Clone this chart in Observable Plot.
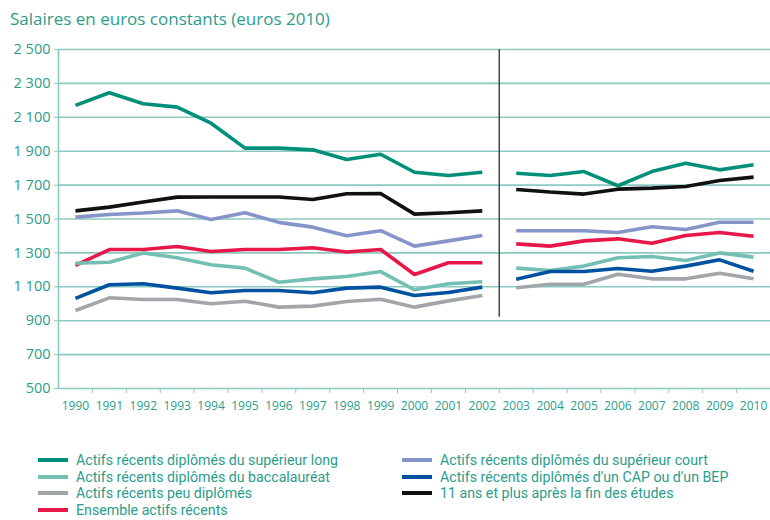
<!DOCTYPE html>
<html>
<head>
<meta charset="utf-8">
<script src="https://cdn.jsdelivr.net/npm/d3@7"></script>
<script src="https://cdn.jsdelivr.net/npm/@observablehq/plot@0.6"></script>
<style>
  html, body { margin: 0; padding: 0; background: #fff; }
  body { width: 770px; height: 520px; position: relative; overflow: hidden; font-family: "Open Sans", sans-serif; }
  #subtitle { position: absolute; left: 10px; top: 7px; font-size: 17px; line-height: 24px; color: #2a9d8c; white-space: nowrap; }
  #chart { position: absolute; left: 0; top: 40px; }
  #legend { position: absolute; left: 38px; top: 451.5px; display: grid; grid-template-columns: 364px 360px; grid-auto-flow: column; grid-template-rows: repeat(4, 16.8px); }
  .item { display: flex; align-items: center; height: 16.8px; overflow: visible; }
  .sw { width: 30px; height: 4px; margin-right: 8px; flex: none; }
  .lt { display: block; font-family: Roboto, sans-serif; font-size: 14.2px; line-height: 16px; height: 16px; color: #2a9d8c; white-space: nowrap; }
</style>
</head>
<body>
<div id="subtitle">Salaires en euros constants (euros 2010)</div>
<div id="chart"></div>
<div id="legend"></div>
<script>
const years = [1990,1991,1992,1993,1994,1995,1996,1997,1998,1999,2000,2001,2002,2003,2004,2005,2006,2007,2008,2009,2010];
const rupture = [2002, 2003]; // série interrompue entre ces deux années

const seriesNames = [
  "Actifs récents diplômés du supérieur long",
  "Actifs récents diplômés du baccalauréat",
  "Actifs récents peu diplômés",
  "Ensemble actifs récents",
  "Actifs récents diplômés du supérieur court",
  "Actifs récents diplômés d'un CAP ou d'un BEP",
  "11 ans et plus après la fin des études"
];
const seriesColors = ["#00907a", "#74bfb3", "#a2a5aa", "#e8174a", "#8594c9", "#0052a0", "#111111"];

const superieurLong = [2170,2245,2180,2160,2065,1918,1918,1908,1851,1882,1776,1757,1776, 1770,1757,1780,1696,1780,1829,1790,1820];
const baccalaureat  = [1239,1245,1300,1271,1230,1210,1127,1147,1161,1190,1082,1118,1130, 1210,1196,1222,1271,1279,1255,1300,1275];
const peuDiplomes   = [960,1035,1025,1025,1000,1015,980,986,1013,1027,980,1017,1049, 1094,1115,1115,1174,1147,1147,1180,1147];
const ensemble      = [1226,1320,1320,1338,1308,1320,1320,1330,1305,1320,1173,1242,1242, 1353,1340,1371,1383,1357,1403,1420,1398];
const superieurCourt= [1511,1527,1535,1548,1497,1537,1480,1452,1401,1431,1340,1371,1403, 1431,1431,1431,1420,1454,1438,1481,1481];
const capBep        = [1032,1112,1118,1092,1065,1078,1078,1065,1092,1098,1049,1066,1098, 1145,1190,1190,1208,1192,1222,1259,1192];
const onzeAnsPlus   = [1548,1570,1600,1629,1630,1630,1630,1615,1649,1650,1529,1537,1548, 1674,1659,1647,1676,1682,1692,1727,1747];

const yTicks = [500,700,900,1100,1300,1500,1700,1900,2100,2300,2500];

const seriesValues = [superieurLong, baccalaureat, peuDiplomes, ensemble, superieurCourt, capBep, onzeAnsPlus];
const breakAt = (rupture[0] + rupture[1]) / 2;

const rows = [];
seriesNames.forEach((name, i) => {
  years.forEach((yr, j) => {
    rows.push({series: name, year: yr, value: seriesValues[i][j], period: yr < breakAt ? "a" : "b"});
  });
});

const teal = "#2a9d8c";
const grid = "#8ccabf";
const xMin = years[0] - 0.5, xMax = years[years.length - 1] + 0.5;
const boundaries = years.slice(0, -1).map(y => y + 0.5);
const fmt = d => d >= 1000 ? `${Math.floor(d / 1000)} ${String(d % 1000).padStart(3, "0")}` : String(d);
const drawOrder = [0, 4, 6, 3, 1, 5, 2].map(i => seriesNames[i]);

const chart = Plot.plot({
  width: 770,
  height: 400,
  marginTop: 9,
  marginLeft: 58,
  marginRight: 0,
  marginBottom: 52,
  x: {domain: [xMin, xMax]},
  y: {domain: [yTicks[0], yTicks[yTicks.length - 1]]},
  color: {domain: seriesNames, range: seriesColors},
  style: {fontFamily: "'Open Sans', sans-serif", background: "white"},
  marks: [
    Plot.ruleY(yTicks, {stroke: grid, strokeWidth: 1.6}),
    Plot.ruleX([xMin], {y1: yTicks[0], y2: yTicks[yTicks.length - 1], stroke: grid, strokeWidth: 1.6}),
    Plot.axisY(yTicks, {tickFormat: fmt, tickSize: 4, tickPadding: 4, fill: teal, stroke: grid, fontSize: 14.5, label: null}),
    Plot.axisX(years, {tickFormat: d => String(d), tickSize: 0, tickPadding: 13, fill: teal, fontSize: 12, label: null}),
    Plot.axisX(boundaries, {tickSize: 5, stroke: grid, fill: "none", label: null}),
    Plot.ruleX([breakAt], {y1: 920, y2: yTicks[yTicks.length - 1], stroke: "#444", strokeWidth: 1.5}),
    Plot.line(rows, {
      x: "year", y: "value", stroke: "series", z: d => d.series + d.period,
      strokeWidth: 3.6, strokeLinejoin: "miter", strokeLinecap: "butt",
      sort: (a, b) => drawOrder.indexOf(a.series) - drawOrder.indexOf(b.series) || a.year - b.year
    })
  ]
});
document.getElementById("chart").appendChild(chart);

const legend = document.getElementById("legend");
seriesNames.forEach((name, i) => {
  const div = document.createElement("div");
  div.className = "item";
  const sw = document.createElement("span");
  sw.className = "sw";
  sw.style.background = seriesColors[i];
  const lt = document.createElement("span");
  lt.className = "lt";
  lt.textContent = name;
  div.appendChild(sw);
  div.appendChild(lt);
  legend.appendChild(div);
});
</script>
</body>
</html>
